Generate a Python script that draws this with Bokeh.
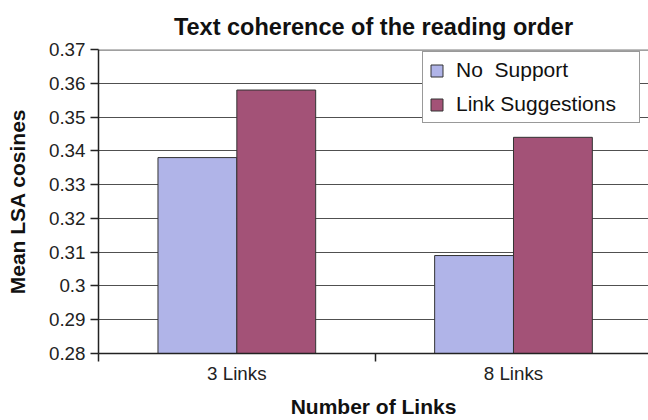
from bokeh.plotting import figure
from bokeh.models import (FixedTicker, Range1d, Legend, LegendItem, Span, ColumnDataSource)
from bokeh.embed import file_html
from bokeh.resources import INLINE

categories = ["3 Links", "8 Links"]
series_names = ["No  Support", "Link Suggestions"]
no_support = [0.338, 0.309]
link_suggestions = [0.358, 0.344]
y_ticks = [0.28, 0.29, 0.30, 0.31, 0.32, 0.33, 0.34, 0.35, 0.36, 0.37]
y_tick_labels = ["0.28", "0.29", "0.3", "0.31", "0.32", "0.33", "0.34", "0.35", "0.36", "0.37"]

colors = ["#B0B4E8", "#A35277"]
FONT = "Liberation Sans"

centers = [i + 0.5 for i in range(len(categories))]
bar_w = 0.285

p = figure(width=648, height=420, output_backend="svg", toolbar_location=None,
           x_range=Range1d(0, 1.988), y_range=Range1d(0.28, 0.37),
           min_border_left=98, min_border_right=0, min_border_top=49, min_border_bottom=67)

p.title.text = "Text coherence of the reading order"
p.title.text_font = FONT
p.title.text_font_size = "23.5px"
p.title.text_font_style = "bold"
p.title.align = "center"
p.title.text_color = "#111111"
p.title.standoff = 20

p.outline_line_color = None
p.background_fill_color = "white"

src1 = ColumnDataSource(dict(x=[c - bar_w / 2 for c in centers], top=no_support))
src2 = ColumnDataSource(dict(x=[c + bar_w / 2 for c in centers], top=link_suggestions))
r1 = p.vbar(x="x", top="top", bottom=0.28, width=bar_w, source=src1,
            fill_color=colors[0], line_color="#333333", line_width=1)
r2 = p.vbar(x="x", top="top", bottom=0.28, width=bar_w, source=src2,
            fill_color=colors[1], line_color="#333333", line_width=1)

# grid
p.xgrid.visible = False
p.ygrid.ticker = FixedTicker(ticks=y_ticks[:-1])
p.ygrid.grid_line_color = "#505050"
p.ygrid.grid_line_width = 1
p.ygrid.level = "underlay"
top_line = Span(location=0.37, dimension="width", line_color="#808080", line_width=2.5, level="underlay")
p.add_layout(top_line)

# y axis
p.yaxis.ticker = FixedTicker(ticks=y_ticks)
p.yaxis.major_label_overrides = {t: l for t, l in zip(y_ticks, y_tick_labels)}
p.yaxis.major_tick_out = 8
p.yaxis.major_tick_in = 0
p.yaxis.minor_tick_out = 0
p.yaxis.minor_tick_in = 0
p.yaxis.major_label_standoff = 5
p.yaxis.major_label_text_font = FONT
p.yaxis.major_label_text_font_size = "18.8px"
p.yaxis.major_label_text_color = "#222222"
p.yaxis.axis_label = "Mean LSA cosines"
p.yaxis.axis_label_text_font = FONT
p.yaxis.axis_label_text_font_size = "21px"
p.yaxis.axis_label_text_font_style = "bold"
p.yaxis.axis_label_text_color = "#111111"
p.yaxis.axis_label_standoff = 17
p.yaxis.axis_line_color = "#222222"
p.yaxis.axis_line_width = 1.5
p.yaxis.major_tick_line_color = "#222222"
p.yaxis.major_tick_line_width = 1.5

# x axis
p.xaxis.ticker = FixedTicker(ticks=centers, minor_ticks=[0, 1, 2])
p.xaxis.major_label_overrides = {c: name for c, name in zip(centers, categories)}
p.xaxis.major_tick_out = 0
p.xaxis.major_tick_in = 0
p.xaxis.minor_tick_out = 8
p.xaxis.minor_tick_in = 0
p.xaxis.minor_tick_line_color = "#222222"
p.xaxis.minor_tick_line_width = 1.5
p.xaxis.major_label_standoff = 1
p.xaxis.major_label_text_font = FONT
p.xaxis.major_label_text_font_size = "18.8px"
p.xaxis.major_label_text_color = "#222222"
p.xaxis.axis_label = "Number of Links"
p.xaxis.axis_label_text_font = FONT
p.xaxis.axis_label_text_font_size = "21px"
p.xaxis.axis_label_text_font_style = "bold"
p.xaxis.axis_label_text_color = "#111111"
p.xaxis.axis_label_standoff = 8
p.xaxis.axis_line_color = "#222222"
p.xaxis.axis_line_width = 1.5

legend = Legend(items=[LegendItem(label=series_names[0], renderers=[r1]),
                       LegendItem(label=series_names[1], renderers=[r2])],
                location=(324, 230), padding=6, spacing=10,
                glyph_width=15, glyph_height=15, label_standoff=12, label_width=177,
                label_text_font=FONT, label_text_font_size="21px", label_text_color="#111111",
                border_line_color="#333333", border_line_width=1, background_fill_alpha=1,
                margin=0)
p.add_layout(legend)

open("out.html", "w").write(file_html(p, INLINE))
